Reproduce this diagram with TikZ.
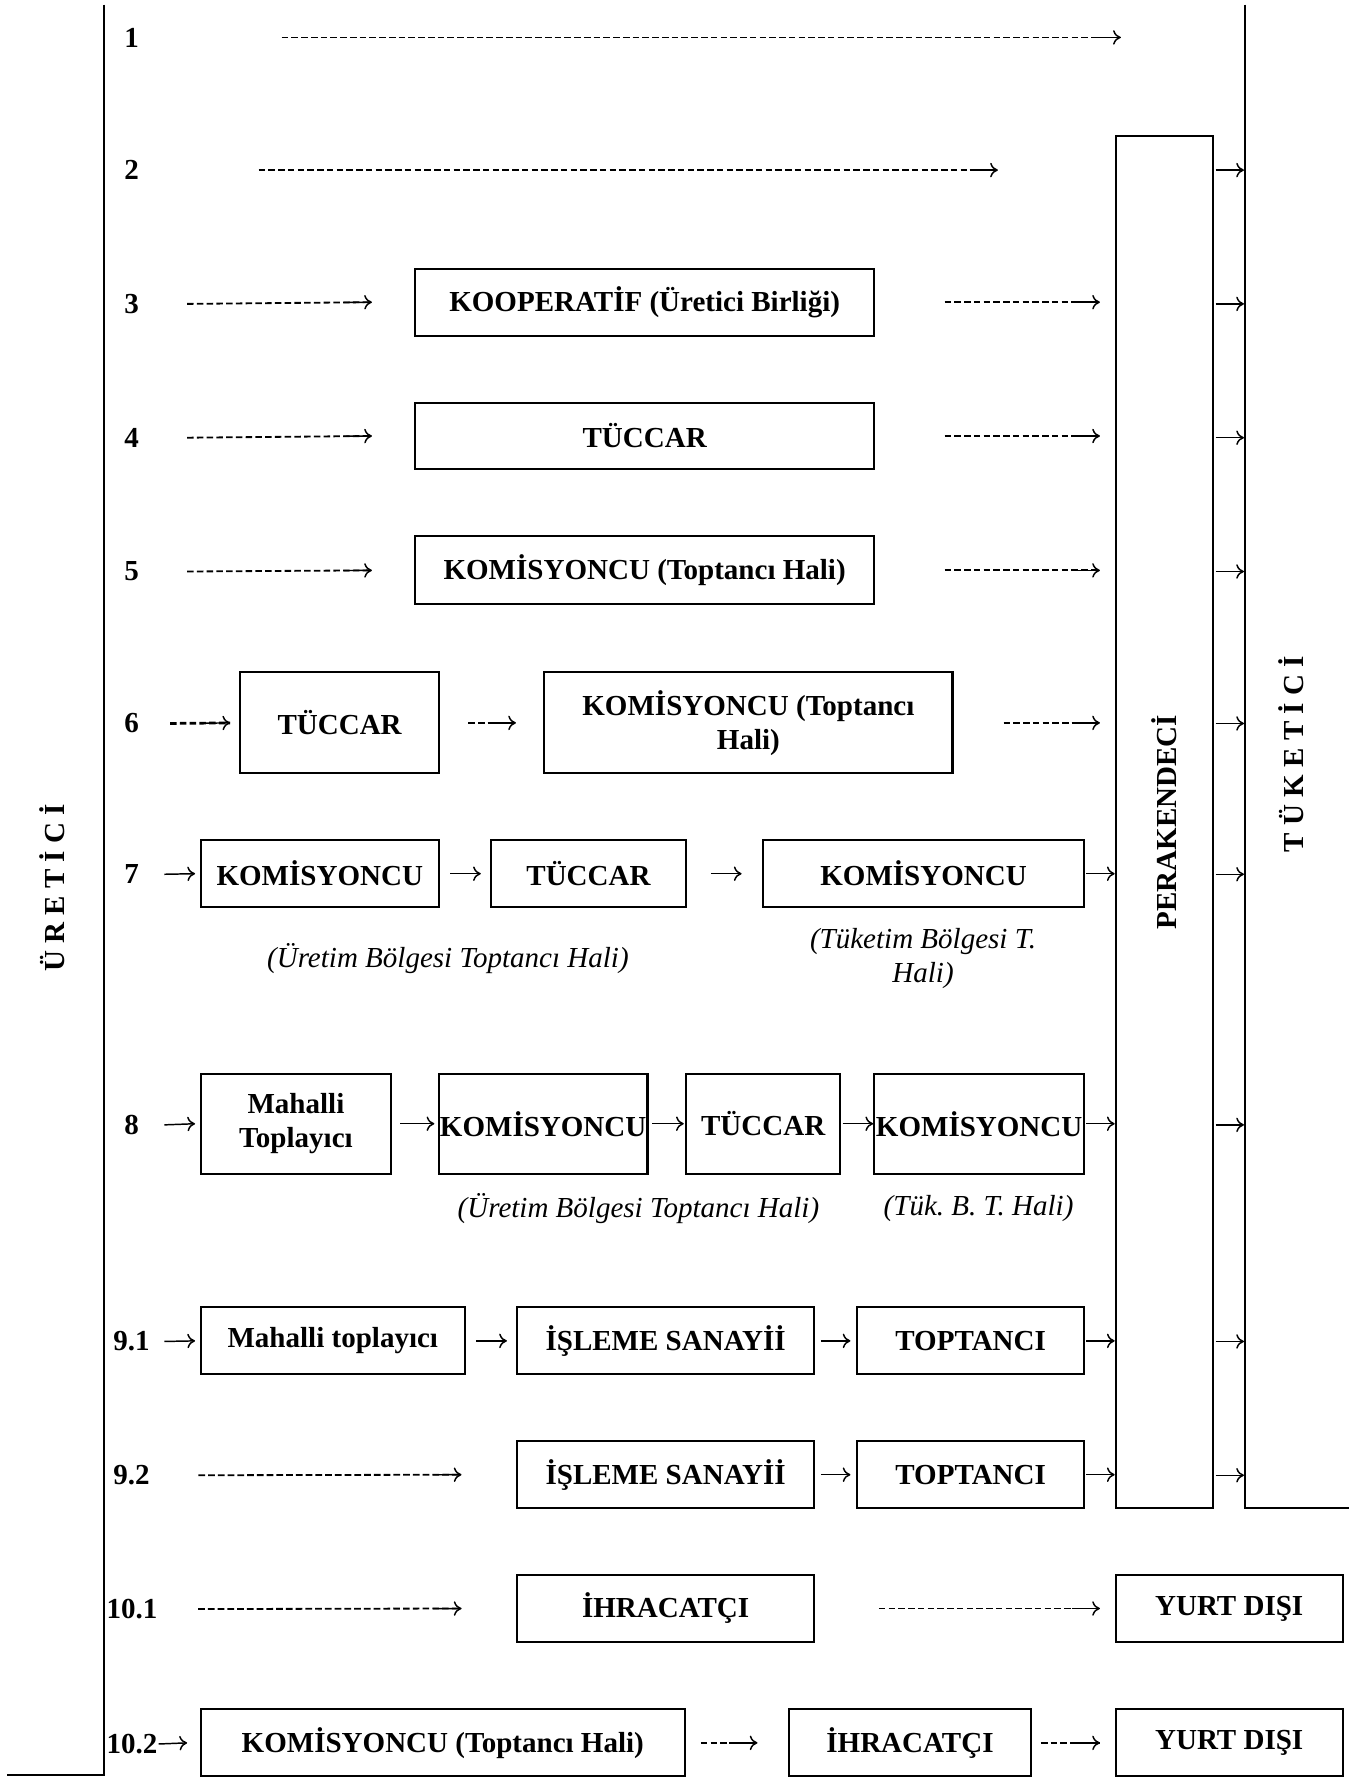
\documentclass[tikz,border=0pt]{standalone}
\usepackage{fontspec}
\usepackage{graphicx}
\setmainfont{Liberation Serif}
\usetikzlibrary{arrows.meta,calc,decorations.markings}
\newcommand\myfs{\fontsize{12.8}{15}\selectfont\frenchspacing}
\begin{document}
\begin{tikzpicture}[x=0.5pt,y=-0.5pt,
  box/.style={draw, line width=0.9pt, inner sep=0pt, outer sep=0pt, font=\myfs\bfseries, align=center},
  bw/.style={minimum width=#1*0.5pt},
  bh/.style={minimum height=#1*0.5pt},
  lab/.style={inner sep=0pt, outer sep=0pt, font=\myfs\bfseries},
  note/.style={inner sep=0pt, font=\myfs\itshape, align=center},
  tip/.style={-{To[length=3.4pt,width=6.4pt]}},
  sar/.style={line width=0.65pt, tip},
  endarrow/.style={postaction={decorate}, decoration={markings,
      mark=at position -12.5pt with {\draw[solid, line width=0.65pt, tip] (0pt,0pt) -- (12.5pt,0pt);}}},
  dar/.style={line width=0.8pt, dash pattern=on 2.9pt off 1.4pt, endarrow},
  bdar/.style={line width=1.2pt, dash pattern=on 2.9pt off 1.4pt, endarrow},
  vline/.style={line width=0.9pt}
]
\useasboundingbox (0,0) rectangle (1198,1568);

% side lines
\coordinate (uTop) at (92,4);
\coordinate (uBot) at (92,1565);
\coordinate (uEnd) at (6,1565);
\draw[vline] (uTop) -- (uBot) -- (uEnd);
\coordinate (tTop) at (1098,4);
\coordinate (tBot) at (1098,1330);
\coordinate (tEnd) at (1190,1330);
\draw[vline] (tTop) -- (tBot) -- (tEnd);

\node[lab, rotate=90] (uret) at (46,783) {Ü R E T İ C İ};
\node[lab, rotate=90] (tuk) at (1139,665) {T Ü K E T İ C İ};

% row labels
\node[lab] (l1) at (116,33) {1};
\node[lab] (l2) at (116,150) {2};
\node[lab] (l3) at (116,268) {3};
\node[lab] (l4) at (116,386) {4};
\node[lab] (l5) at (116,504) {5};
\node[lab] (l6) at (116,638) {6};
\node[lab] (l7) at (116,771) {7};
\node[lab] (l8) at (116,992) {8};
\node[lab,anchor=west] (l91) at (100,1183) {9.1};
\node[lab,anchor=west] (l92) at (100,1301) {9.2};
\node[lab,anchor=west] (l101) at (94,1419) {10.1};
\node[lab,anchor=west] (l102) at (94,1538) {10.2};

% boxes
\node[box,bw=86,bh=1210] (perak) at (1027,725) {\rotatebox{90}{PERAKENDECİ}};
\node[box,bw=405,bh=59] (koop) at (568.5,266.5) {KOOPERATİF (Üretici Birliği)};
\node[box,bw=405,bh=59] (tuc4) at (568.5,384.5) {TÜCCAR};
\node[box,bw=405,bh=60] (kom5) at (568.5,503) {KOMİSYONCU (Toptancı Hali)};
\node[box,bw=175,bh=89] (tuc6) at (299.5,637.5) {TÜCCAR};
\node[box,bw=360,bh=89] (kom6) at (660,637.5) {KOMİSYONCU (Toptancı\\Hali)};
\node[box,bw=210,bh=59] (kom7a) at (282,770.5) {KOMİSYONCU};
\node[box,bw=172,bh=59] (tuc7) at (519,770.5) {TÜCCAR};
\node[box,bw=283,bh=59] (kom7b) at (814.5,770.5) {KOMİSYONCU};
\node[box,bw=168,bh=88] (mah8) at (261,991) {Mahalli\\Toplayıcı};
\node[box,bw=184,bh=88] (kom8a) at (479,991) {KOMİSYONCU};
\node[box,bw=136,bh=88] (tuc8) at (673,991) {TÜCCAR};
\node[box,bw=185,bh=88] (kom8b) at (863.5,991) {KOMİSYONCU};
\node[box,bw=233,bh=59] (mah91) at (293.5,1182.5) {Mahalli toplayıcı};
\node[box,bw=262,bh=59] (isl91) at (587,1182.5) {İŞLEME SANAYİİ};
\node[box,bw=200,bh=59] (top91) at (856,1182.5) {TOPTANCI};
\node[box,bw=262,bh=59] (isl92) at (587,1300.5) {İŞLEME SANAYİİ};
\node[box,bw=200,bh=59] (top92) at (856,1300.5) {TOPTANCI};
\node[box,bw=262,bh=59] (ihr101) at (587,1418.5) {İHRACATÇI};
\node[box,bw=200,bh=59] (yd101) at (1084,1418.5) {YURT DIŞI};
\node[box,bw=427,bh=59] (kom102) at (390.5,1537) {KOMİSYONCU (Toptancı Hali)};
\node[box,bw=213,bh=59] (ihr102) at (802.5,1537) {İHRACATÇI};
\node[box,bw=200,bh=59] (yd102) at (1084,1537) {YURT DIŞI};

% notes
\node[note] (n7a) at (395,845) {(Üretim Bölgesi Toptancı Hali)};
\node[note] (n7b) at (814,845) {(Tüketim Bölgesi T.\\Hali)};
\node[note] (n8a) at (563,1066) {(Üretim Bölgesi Toptancı Hali)};
\node[note] (n8b) at (863,1066) {(Tük. B. T. Hali)};

% row 1, 2
\draw[dar] ([xshift=63pt]l1.east) -- ([xshift=433pt]l1.east);
\draw[dar] ([xshift=52.8pt]l2.east) -- ([xshift=378.8pt]l2.east);

% rows 3-5
\foreach \l/\b in {l3/koop, l4/tuc4, l5/kom5}{
  \draw[dar] ([xshift=21.3pt]\l.east) -- ([xshift=-19pt]\b.west);
  \draw[dar] ([xshift=31pt]\b.east) -- ($(perak.west|-\b.east)+(-14,0)$);
}

% row 6
\draw[bdar] ([xshift=13.8pt]l6.east) -- ([xshift=-4.5pt]tuc6.west);
\draw[bdar] ([xshift=13pt]tuc6.east) -- ([xshift=-12.5pt]kom6.west);
\draw[dar] ([xshift=22.5pt]kom6.east) -- ($(perak.west|-kom6.east)+(-14,0)$);

% row 7
\draw[sar] ([xshift=11.3pt]l7.east) -- ([xshift=-2.5pt]kom7a.west);
\draw[sar] ([xshift=5pt]kom7a.east) -- ([xshift=-4.5pt]tuc7.west);
\draw[sar] ([xshift=11pt]tuc7.east) -- ([xshift=-9.5pt]kom7b.west);
\draw[sar] ([xshift=1pt]kom7b.east) -- ($(perak.west|-kom7b.east)+(-1,0)$);

% row 8
\draw[sar] ([xshift=11.3pt]l8.east) -- ([xshift=-2.5pt]mah8.west);
\draw[sar] ([xshift=4pt]mah8.east) -- ([xshift=-2pt]kom8a.west);
\draw[sar] ([xshift=2pt]kom8a.east) -- ([xshift=-1pt]tuc8.west);
\draw[sar] ([xshift=1pt]tuc8.east) -- ([xshift=-0.5pt]kom8b.west);
\draw[sar] ([xshift=1pt]kom8b.east) -- ($(perak.west|-kom8b.east)+(-1,0)$);

% row 9.1
\draw[sar] ([xshift=6.5pt]l91.east) -- ([xshift=-2.5pt]mah91.west);
\draw[sar] ([xshift=5pt]mah91.east) -- ([xshift=-4.5pt]isl91.west);
\draw[sar] ([xshift=3pt]isl91.east) -- ([xshift=-3pt]top91.west);
\draw[sar] ([xshift=1pt]top91.east) -- ($(perak.west|-top91.east)+(-1,0)$);

% row 9.2
\draw[dar] ([xshift=21.5pt]l92.east) -- ([xshift=-24.5pt]isl92.west);
\draw[sar] ([xshift=3pt]isl92.east) -- ([xshift=-3pt]top92.west);
\draw[sar] ([xshift=1pt]top92.east) -- ($(perak.west|-top92.east)+(-1,0)$);

% row 10.1
\draw[dar] ([xshift=18pt]l101.east) -- ([xshift=-24.5pt]ihr101.west);
\draw[dar] ([xshift=28.5pt]ihr101.east) -- ([xshift=-7pt]yd101.west);

% row 10.2
\draw[sar] ([xshift=0.5pt]l102.east) -- ([xshift=-6pt]kom102.west);
\draw[dar] ([xshift=7pt]kom102.east) -- ([xshift=-14pt]ihr102.west);
\draw[dar] ([xshift=4.5pt]ihr102.east) -- ([xshift=-7pt]yd102.west);

% perakendeci -> tuketici
\foreach \l in {l2,l3,l4,l5,l6,l7,l8,l91,l92}{
  \draw[sar] ($(perak.east|-\l.east)+(2,0)$) -- ($(tTop|-\l.east)+(-1,0)$);
}
\end{tikzpicture}
\end{document}
